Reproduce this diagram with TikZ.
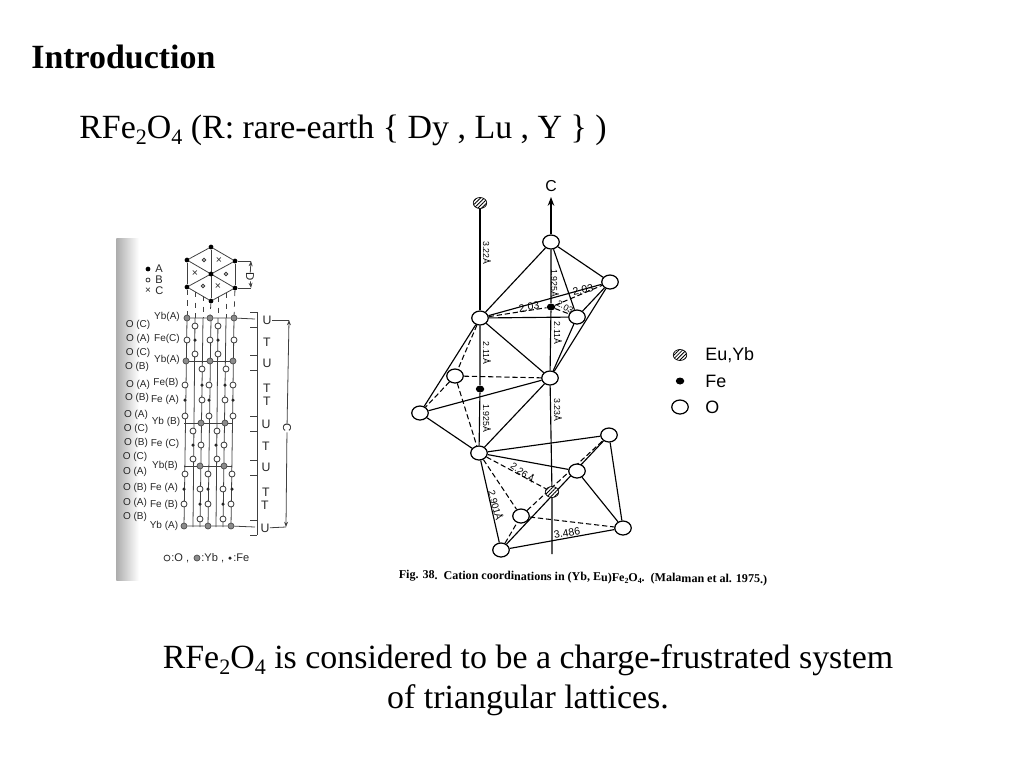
\documentclass[tikz,border=0pt]{standalone}
\usepackage{graphicx}
\usepackage{fontspec}
\setmainfont{Liberation Serif}
\setsansfont{Liberation Sans}
\usetikzlibrary{positioning,backgrounds,shapes.geometric,patterns.meta,arrows.meta}

\newcommand{\lowidx}[1]{\raisebox{-.2em}{\scalebox{.65}{#1}}}

\tikzset{
	title text/.style={anchor=west, font=\fontsize{19.3}{23}\selectfont},
	line text/.style={font=\fontsize{19.3}{23}\selectfont, align=center},
	left text/.style={font=\sffamily\fontsize{5.7}{6}\selectfont, text=black!85, inner sep=0pt},
	layer text/.style={font=\sffamily\fontsize{7}{8}\selectfont, text=black!85, inner sep=0pt},
	key text/.style={font=\sffamily\fontsize{6.3}{8}\selectfont, text=black!85, inner sep=0pt, anchor=west},
	bond text/.style={font=\sffamily\fontsize{5}{6}\selectfont, inner sep=0pt, rotate=-90},
	dist text/.style={font=\sffamily\fontsize{6}{7}\selectfont, inner sep=0pt},
	every oxygen/.style={ellipse, draw, line width=.7pt, fill=white, inner sep=0pt, minimum width=.33cm, minimum height=.28cm},
	every cation/.style={ellipse, draw, line width=.4pt, inner sep=0pt, minimum width=.27cm, minimum height=.22cm,
		preaction={fill=white}, pattern={Lines[angle=45,distance=1.5pt,line width=.5pt]}},
	every iron/.style={ellipse, fill, inner sep=0pt, minimum width=.17cm, minimum height=.14cm},
	small o/.style={circle, draw=black!80, line width=.45pt, fill=white, inner sep=0pt, minimum size=.12cm},
	small fe/.style={circle, fill=black!85, inner sep=0pt, minimum size=.07cm},
	small yb/.style={circle, draw=black!70, line width=.4pt, fill=black!45, inner sep=0pt, minimum size=.12cm},
	hex dot/.style={circle, fill=black, inner sep=0pt, minimum size=.095cm},
	scan line/.style={line width=.45pt, draw=black!75},
	bond/.style={line width=.65pt},
	dash bond/.style={line width=.6pt, dash pattern=on 3pt off 1.6pt},
}

\begin{document}
\begin{tikzpicture}[x=.02cm, y=-.02cm, >=stealth]
		\useasboundingbox (0,0) rectangle (1024,768);

		\node [title text, font=\bfseries\fontsize{19.3}{23}\selectfont, inner sep=0pt] (intro) at (31,57) {Introduction};
		\node [title text, inner sep=0pt] (formula) at (79,130) {RFe\lowidx{2}O\lowidx{4} (R: rare-earth \{ Dy , Lu , Y \} )};
		\node [line text] (summary) at (528,680) {RFe\lowidx{2}O\lowidx{4} is considered to be a charge-frustrated system\\of triangular lattices.};

		\foreach \m/\x/\y in {1/211/247,2/187/260,3/235/261,4/187/287,5/235/288,6/211/301,0/211/274}
		\node [hex dot] (hex-\m) at (\x,\y) {};

		\foreach \x/\y [count=\i] in {204/260,226/274,203/286}
		\node [small o, minimum size=.07cm] (hexo-\i) at (\x,\y) {};

		\foreach \x/\y [count=\i] in {219/261,195/274,218/287}
		\node [left text, font=\sffamily\fontsize{6}{6}\selectfont] (hexx-\i) at (\x,\y) {×};

		\foreach \x [count=\i] in {187,195,203,211,218,226,234}
		\coordinate (col-\i-t) at (\x,318);
		\foreach \x [count=\i] in {184,193,200,208,216,223,231}
		\coordinate (col-\i-b) at (\x,527);

		\foreach \x/\y [count=\i] in {195/292,203/296,218/297,226/293}
		\coordinate (drop-\i) at (\x,\y);

		\foreach \x/\y [count=\i] in {195/326,218/326,187/340,210/340,234/340,195/354,218/354,202/369,226/369,185/385,209/385,233/385,202/400,225/400,185/416,209/416,233/416,193/431,217/431,201/445,224/445,193/459,217/459,185/474,208/474,232/474,200/489,223/489,184/504,208/504,231/504,200/519,223/519}
		\node [small o] (lo-\i) at (\x,\y) {};

		\foreach \x/\y [count=\i] in {195/340,218/340,202/385,225/385,185/400,209/400,233/400,193/445,216/445,184/489,208/489,232/489,200/504,223/504}
		\node [small fe] (lf-\i) at (\x,\y) {};

		\foreach \x/\y [count=\i] in {187/318,210/318,234/318,186/361,210/361,233/361,201/423,225/423,200/466,224/466,184/526,208/526,231/526}
		\node [small yb] (ly-\i) at (\x,\y) {};

		\foreach \t/\x/\y [count=\i] in {O (C)/138/325,O (A)/138/339,O (C)/138/353,O (B)/137/367,O (A)/138/385,O (B)/137/398,O (A)/136/415,O (C)/136/429,O (B)/136/443,O (C)/135/457,O (A)/135/472,O (B)/135/488,O (A)/135/503,O (B)/135/517}
		\node [left text] (site-\i) at (\x,\y) {\t};

		\foreach \t/\x/\y [count=\i] in {Yb(A)/167/317,Fe(C)/167/339,Yb(A)/167/360,Fe(B)/166/383,Fe (A)/165/400,Yb (B)/166/422,Fe (C)/165/444,Yb(B)/165/466,Fe (A)/164/488,Fe (B)/164/505,Yb (A)/164/526}
		\node [left text] (metal-\i) at (\x,\y) {\t};

		\foreach \t/\x/\y [count=\i] in {U/267/320,T/267/342,U/267/363,T/267/388,T/267/401,U/266/424,T/266/446,U/266/467,T/266/492,T/265/505,U/265/528}
		\node [layer text] (layer-\i) at (\x,\y) {\t};

		\foreach \t/\y [count=\i] in {A/269,B/280,C/291}
		\node [key text] (key-\i) at (155,\y) {\t};
		\node [hex dot] (keyA) at (148,269) {};
		\node [small o, minimum size=.08cm] (keyB) at (148,280) {};
		\node [left text] (keyC) at (148,291) {×};

		\node [left text, rotate=-90, font=\sffamily\fontsize{6.5}{7}\selectfont] (Dgap) at (250,277) {D};
		\coordinate (Dtop) at (251,261);
		\coordinate (Dbot) at (251,288);

		\foreach \y [count=\i] in {312,327,355,370,416,431,460,475,520,535}{
			\coordinate (tick-\i-a) at (250,\y);
			\coordinate (tick-\i-b) at (257,\y);
		}

		\node [left text, rotate=-90, font=\sffamily\fontsize{6.5}{7}\selectfont] (cgap) at (287,428) {C};
		\coordinate (ctop) at (289,320);
		\coordinate (cbot) at (286,527);
		\coordinate (rowT) at (255,319);
		\coordinate (rowB) at (255,527);
		\coordinate (row3l) at (184,423);
		\coordinate (row3r) at (232,423);
		\coordinate (row4l) at (184,466);
		\coordinate (row4r) at (232,466);

		\node [small o] (symO) at (167,558) {};
		\node [key text] (txtO) at (171,558) {:O ,};
		\node [small yb] (symYb) at (197,558) {};
		\node [key text] (txtYb) at (201,558) {:Yb ,};
		\node [small fe] (symFe) at (230,558) {};
		\node [key text] (txtFe) at (233,558) {:Fe};

		\node [every cation] (eu-1) at (480,203) {};
		\node [every cation] (eu-2) at (552,492) {};
		\node [every iron] (fe-1) at (551,307) {};
		\node [every iron] (fe-2) at (480,389) {};

		\foreach \m/\x/\y in {top/551/242,right/610/282,a/480/318,b/577/317,c/455/376,d/550/378,e/420/413,f/479/453,g/609/435,h/577/471,i/521/516,j/623/528,k/501/550}
		\node [every oxygen] (o-\m) at (\x,\y) {};

		\coordinate (axis-top) at (551,197);
		\coordinate (axis-bot) at (552,554);
		\node [font=\sffamily\fontsize{9}{10}\selectfont, inner sep=0pt] (axis-c) at (551,186) {C};

		\node [bond text] (len-1) at (487,253) {3.22Å};
		\node [bond text] (len-2) at (555,283) {1.925Å};
		\node [bond text] (len-3) at (558,333) {2.11Å};
		\node [bond text] (len-4) at (487,353) {2.11Å};
		\node [bond text] (len-5) at (487,418) {1.925Å};
		\node [bond text] (len-6) at (558,410) {3.23Å};
		\node [dist text, rotate=8] (dist-1) at (529,307) {2.03};
		\node [dist text, rotate=12] (dist-2) at (583,290) {2.03};
		\node [dist text, rotate=-28, font=\sffamily\fontsize{5}{6}\selectfont] (dist-3) at (565,307) {2.03};
		\node [dist text, rotate=-35, font=\sffamily\fontsize{5.4}{6}\selectfont] (dist-4) at (523,472) {2.26\,Å};
		\node [dist text, rotate=-75, font=\sffamily\fontsize{5.5}{6}\selectfont] (dist-5) at (496,505) {2.901Å};
		\node [dist text, rotate=10] (dist-6) at (567,533) {3.486};

		\node [every cation] (legend-1) at (680,355) {};
		\node [every iron] (legend-2) at (680,381) {};
		\node [every oxygen] (legend-3) at (680,407) {};
		\foreach \t/\y [count=\i] in {{Eu,Yb}/355,Fe/381,O/407}
		\node [anchor=west, inner sep=0pt, font=\sffamily\fontsize{10.2}{11}\selectfont] (legtxt-\i) at (705,\y) {\t};

		\node [rotate=-.7, inner sep=0pt, font=\bfseries\fontsize{6.85}{8}\selectfont] (caption) at (583,578) {Fig. 38.\ \ Cation coordinations in (Yb, Eu)Fe\lowidx{2}O\lowidx{4}.\ \ (Malaman et al. 1975.)};

		\begin{scope}[on background layer]
			\node [left color=black!32, right color=white, minimum width=.45cm, minimum height=6.84cm, inner sep=0pt, anchor=north west] (scan) at (116,238) {};

			\foreach \i/\j in {2/1,1/3,3/5,5/6,6/4,4/2,1/6,2/5,4/3}
				\draw [scan line] (hex-\i) -- (hex-\j);
			\draw [scan line] (hex-3) -- (Dtop);
			\draw [scan line] (hex-5) -- (Dbot);
			\draw [scan line, ->, >={Stealth[length=3pt]}] (Dgap) -- (Dtop);
			\draw [scan line, ->, >={Stealth[length=3pt]}] (Dgap) -- (Dbot);

			\foreach \i in {1,...,7}
				\draw [scan line] (col-\i-t) -- (col-\i-b);

			\draw [scan line, dashed] (hex-4) -- (ly-1);
			\draw [scan line, dashed] (drop-1) -- (col-2-t);
			\draw [scan line, dashed] (drop-2) -- (col-3-t);
			\draw [scan line, dashed] (hex-6) -- (ly-2);
			\draw [scan line, dashed] (drop-3) -- (col-5-t);
			\draw [scan line, dashed] (drop-4) -- (col-6-t);
			\draw [scan line, dashed] (hex-5) -- (ly-3);

			\draw [scan line] (ly-1) -- (ly-2) -- (ly-3) -- (rowT);
			\draw [scan line] (ly-4) -- (ly-5) -- (ly-6);
			\draw [scan line] (row3l) -- (row3r);
			\draw [scan line] (row4l) -- (row4r);
			\draw [scan line] (ly-11) -- (ly-12) -- (ly-13) -- (rowB);

			\draw [scan line, line width=.5pt] (tick-1-b) -- (tick-10-b);
			\foreach \i in {1,...,10}
				\draw [scan line] (tick-\i-a) -- (tick-\i-b);

			\draw [scan line] (layer-1) -- (ctop);
			\draw [scan line] (layer-11) -- (cbot);
			\draw [scan line, ->, >={Stealth[length=3pt]}] (cgap) -- (ctop);
			\draw [scan line, ->, >={Stealth[length=3pt]}] (cgap) -- (cbot);

			\draw [bond] (eu-1) -- (o-a);
			\draw [bond] (o-a) -- (fe-2) -- (o-f);
			\draw [bond] (axis-bot) -- (eu-2) -- (o-d) -- (fe-1) -- (o-top);
			\draw [bond, ->, >={Stealth[length=5pt]}] (o-top) -- (axis-top);

			\foreach \i/\j in {top/a,top/right,top/b,a/b,a/right,right/b,right/d,b/d,a/d,a/e,e/d,e/f,f/d,f/g,f/h,f/k,k/g,h/j,g/j,k/j}
				\draw [bond] (o-\i) -- (o-\j);

			\foreach \i/\j in {a/c,c/d,c/e,c/f,f/i,k/i,i/g,i/j}
				\draw [dash bond] (o-\i) -- (o-\j);

			\draw [dash bond] (o-a) -- (fe-1);
			\draw [dash bond] (fe-1) -- (o-b);
			\draw [dash bond] (fe-1) -- (o-right);
			\draw [dash bond] (o-f) -- (eu-2);
		\end{scope}

	\end{tikzpicture}
\end{document}
